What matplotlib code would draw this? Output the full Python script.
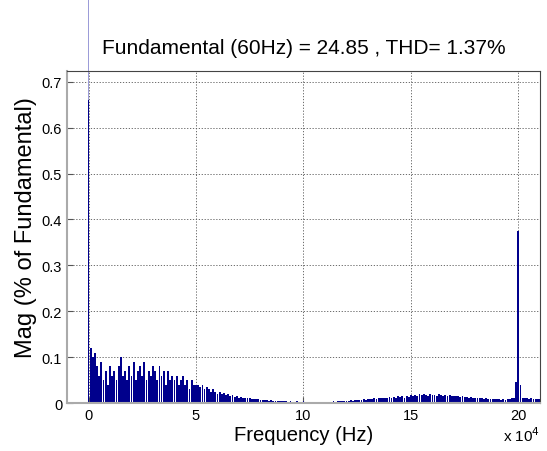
import matplotlib
matplotlib.use("Agg")
import matplotlib.pyplot as plt
import numpy as np

plt.rcParams['font.family'] = ['Liberation Sans', 'DejaVu Sans']

# Harmonic spectrum (1 kHz bins from 1 kHz to 210 kHz), % of fundamental
spectrum_rows = [
    [0.12, 0.10, 0.11, 0.08, 0.06, 0.09, 0.05, 0.07, 0.04, 0.08],
    [0.06, 0.07, 0.05, 0.08, 0.10, 0.06, 0.07, 0.05, 0.08, 0.06],
    [0.09, 0.05, 0.07, 0.08, 0.06, 0.09, 0.05, 0.07, 0.06, 0.08],
    [0.07, 0.05, 0.08, 0.06, 0.07, 0.04, 0.07, 0.05, 0.06, 0.05],
    [0.06, 0.04, 0.05, 0.06, 0.04, 0.05, 0.03, 0.05, 0.04, 0.04],
    [0.04, 0.035, 0.04, 0.03, 0.035, 0.03, 0.025, 0.03, 0.025, 0.02],
    [0.025, 0.02, 0.022, 0.018, 0.02, 0.015, 0.017, 0.014, 0.015, 0.012],
    [0.013, 0.011, 0.012, 0.010, 0.011, 0.009, 0.009, 0.008, 0.008, 0.007],
    [0.007, 0.006, 0.006, 0.005, 0.006, 0.005, 0.005, 0.004, 0.005, 0.004],
    [0.004, 0.004, 0.003, 0.004, 0.003, 0.003, 0.004, 0.003, 0.003, 0.005],
    [0.003, 0.002, 0.003, 0.002, 0.002, 0.003, 0.002, 0.002, 0.003, 0.002],
    [0.002, 0.003, 0.003, 0.004, 0.003, 0.004, 0.005, 0.004, 0.005, 0.004],
    [0.005, 0.006, 0.005, 0.006, 0.007, 0.006, 0.007, 0.008, 0.007, 0.008],
    [0.009, 0.008, 0.010, 0.009, 0.011, 0.010, 0.012, 0.010, 0.011, 0.013],
    [0.012, 0.014, 0.011, 0.015, 0.013, 0.016, 0.012, 0.015, 0.014, 0.017],
    [0.015, 0.018, 0.016, 0.019, 0.017, 0.020, 0.018, 0.016, 0.019, 0.017],
    [0.018, 0.016, 0.019, 0.017, 0.015, 0.018, 0.016, 0.017, 0.015, 0.016],
    [0.015, 0.016, 0.014, 0.015, 0.013, 0.014, 0.012, 0.013, 0.011, 0.012],
    [0.011, 0.010, 0.011, 0.009, 0.010, 0.008, 0.009, 0.008, 0.009, 0.008],
    [0.008, 0.007, 0.008, 0.007, 0.008, 0.009, 0.010, 0.012, 0.045, 0.375],
    [0.040, 0.012, 0.010, 0.011, 0.009, 0.010, 0.009, 0.008, 0.009, 0.008],
]
bin_step = 1000
dc_value = 0.66
fund_freq = 60
fund_value = 100.0
x_ticks = [0, 50000, 100000, 150000, 200000]
x_ticklabels = ['0', '5', '10', '15', '20']
y_ticks = [0, 0.1, 0.2, 0.3, 0.4, 0.5, 0.6, 0.7]
y_ticklabels = ['0', '0.1', '0.2', '0.3', '0.4', '0.5', '0.6', '0.7']
title = 'Fundamental (60Hz) = 24.85 , THD= 1.37%'

values = np.concatenate([np.array(r, dtype=float) for r in spectrum_rows])
freqs = bin_step * np.arange(1, len(values) + 1)

fig = plt.figure(figsize=(5.47, 4.52), dpi=100)
ax = fig.add_axes([0.1225, 0.106, 0.8645, 0.7347])

bar_color = '#00008C'
ax.bar(freqs, values, width=0.85 * bin_step, color=bar_color, linewidth=0)
ax.bar([fund_freq], [fund_value], width=400, color='#9C9CD8', linewidth=0, clip_on=False, zorder=1)
ax.bar([0], [dc_value], width=400, color=bar_color, linewidth=0, zorder=2)

ax.set_xlim(-10000, 210000)
ax.set_ylim(0, 0.7234)
ax.set_xticks(x_ticks)
ax.set_xticklabels(x_ticklabels)
ax.set_yticks(y_ticks)
ax.set_yticklabels(y_ticklabels)
ax.tick_params(direction='in', labelsize=10.5, length=4, color='#555555')
ax.grid(True, linestyle=(0, (1.5, 2)), color='#555555', linewidth=0.6)
ax.set_axisbelow(True)

for s in ['left', 'bottom']:
    ax.spines[s].set_color('#aaaaaa')
    ax.spines[s].set_linewidth(1.5)
for s in ['top', 'right']:
    ax.spines[s].set_color('#444444')
    ax.spines[s].set_linewidth(0.8)

ax.set_xlabel('Frequency (Hz)', fontsize=14.6, labelpad=2)
ax.set_ylabel('Mag (% of Fundamental)', fontsize=17)
ax.yaxis.set_label_coords(-0.063, 0.533)
ax.set_title(title, fontsize=15, pad=13)
ax.text(1.0, -0.068, r'x 10$^{4}$', transform=ax.transAxes, ha='right', va='top', fontsize=11)

fig.savefig('out.png', dpi=100)
